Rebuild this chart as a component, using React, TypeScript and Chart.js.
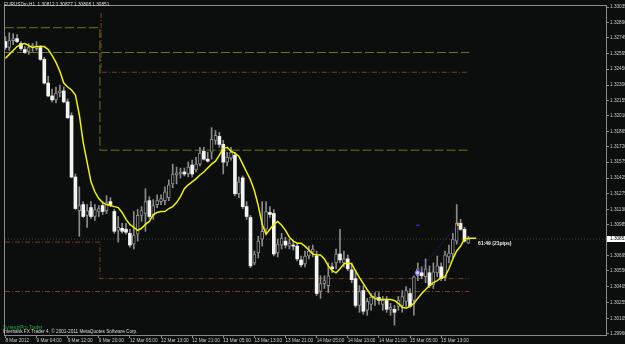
import React, { useEffect, useRef } from 'react';
import { Chart, registerables } from 'chart.js';

Chart.register(...registerables);

// ---- Data (EURUSDm, H1) ----
const opens = [
  1.32710, 1.32654, 1.32719, 1.32737, 1.32691, 1.32635, 1.32617, 1.32654, 1.32644, 1.32654,
  1.32542, 1.32319, 1.32198, 1.32161, 1.32226, 1.32245, 1.32142, 1.32012, 1.31435, 1.31119,
  1.31175, 1.31073, 1.31147, 1.31063, 1.31110, 1.31166, 1.31119, 1.31203, 1.31110, 1.30933,
  1.30952, 1.30943, 1.30905, 1.30803, 1.30896, 1.31073, 1.31091, 1.31212, 1.31073, 1.31175,
  1.31203, 1.31212, 1.31240, 1.31370, 1.31454, 1.31463, 1.31482, 1.31463, 1.31547, 1.31501,
  1.31556, 1.31677, 1.31603, 1.31668, 1.31780, 1.31817, 1.31742, 1.31575, 1.31612, 1.31640,
  1.31277, 1.31426, 1.31156, 1.31054, 1.30626, 1.30719, 1.30850, 1.30943, 1.31101, 1.31091,
  1.30719, 1.30794, 1.30831, 1.30784, 1.30794, 1.30784, 1.30654, 1.30617, 1.30691, 1.30729,
  1.30691, 1.30357, 1.30431, 1.30412, 1.30589, 1.30626, 1.30710, 1.30626, 1.30664, 1.30561,
  1.30478, 1.30226, 1.30366, 1.30180, 1.30236, 1.30282, 1.30301, 1.30236, 1.30273, 1.30189,
  1.30189, 1.30217, 1.30226, 1.30264, 1.30338, 1.30273, 1.30505, 1.30533, 1.30496, 1.30533,
  1.30422, 1.30533, 1.30589, 1.30487, 1.30682, 1.30710, 1.30831, 1.30998, 1.30943, 1.30812,
];
const highs = [
  1.32756, 1.32793, 1.32784, 1.32775, 1.32710, 1.32663, 1.32691, 1.32691, 1.32710, 1.32672,
  1.32561, 1.32384, 1.32263, 1.32282, 1.32300, 1.32282, 1.32170, 1.32040, 1.31463, 1.31342,
  1.31203, 1.31175, 1.31203, 1.31175, 1.31166, 1.31203, 1.31259, 1.31240, 1.31129, 1.31063,
  1.30998, 1.30998, 1.30943, 1.31110, 1.31129, 1.31156, 1.31324, 1.31249, 1.31222, 1.31268,
  1.31268, 1.31342, 1.31408, 1.31556, 1.31528, 1.31519, 1.31519, 1.31575, 1.31594, 1.31621,
  1.31714, 1.31714, 1.31668, 1.31900, 1.31873, 1.31854, 1.31780, 1.31668, 1.31714, 1.31668,
  1.31435, 1.31445, 1.31203, 1.31073, 1.30738, 1.30877, 1.31203, 1.31203, 1.31156, 1.31129,
  1.30850, 1.30905, 1.30868, 1.30850, 1.30831, 1.30803, 1.30691, 1.30738, 1.30784, 1.30794,
  1.30738, 1.30505, 1.30505, 1.30626, 1.30626, 1.30757, 1.30943, 1.30738, 1.30701, 1.30626,
  1.30552, 1.30412, 1.30412, 1.30292, 1.30338, 1.30347, 1.30347, 1.30310, 1.30310, 1.30245,
  1.30226, 1.30310, 1.30366, 1.30403, 1.30385, 1.30505, 1.30626, 1.30589, 1.30664, 1.30598,
  1.30626, 1.30691, 1.30626, 1.30738, 1.30794, 1.30905, 1.31175, 1.31036, 1.30961, 1.30877,
];
const lows = [
  1.32635, 1.32626, 1.32682, 1.32700, 1.32626, 1.32598, 1.32589, 1.32617, 1.32626, 1.32533,
  1.32310, 1.32189, 1.32142, 1.32133, 1.32189, 1.32133, 1.31984, 1.31426, 1.31129, 1.30877,
  1.31054, 1.30961, 1.31045, 1.31026, 1.31063, 1.31082, 1.31091, 1.31156, 1.30905, 1.30822,
  1.30905, 1.30896, 1.30775, 1.30757, 1.30831, 1.31017, 1.30924, 1.31045, 1.31036, 1.31147,
  1.31175, 1.31175, 1.31212, 1.31333, 1.31370, 1.31426, 1.31445, 1.31435, 1.31435, 1.31482,
  1.31538, 1.31594, 1.31575, 1.31603, 1.31742, 1.31714, 1.31463, 1.31538, 1.31594, 1.31259,
  1.31240, 1.31138, 1.31036, 1.30580, 1.30608, 1.30673, 1.30784, 1.30905, 1.31054, 1.30691,
  1.30682, 1.30757, 1.30766, 1.30757, 1.30747, 1.30645, 1.30589, 1.30589, 1.30664, 1.30682,
  1.30319, 1.30292, 1.30385, 1.30347, 1.30533, 1.30571, 1.30626, 1.30589, 1.30552, 1.30440,
  1.30208, 1.30161, 1.30143, 1.30133, 1.30180, 1.30226, 1.30236, 1.30180, 1.30161, 1.30133,
  1.30040, 1.30180, 1.30161, 1.30217, 1.30208, 1.30133, 1.30459, 1.30478, 1.30440, 1.30394,
  1.30385, 1.30496, 1.30459, 1.30459, 1.30626, 1.30673, 1.30803, 1.30933, 1.30822, 1.30808,
];
const closes = [
  1.32654, 1.32719, 1.32737, 1.32710, 1.32644, 1.32607, 1.32654, 1.32672, 1.32663, 1.32542,
  1.32319, 1.32198, 1.32161, 1.32226, 1.32245, 1.32142, 1.31993, 1.31435, 1.31138, 1.31166,
  1.31063, 1.31119, 1.31063, 1.31129, 1.31138, 1.31110, 1.31194, 1.31175, 1.30924, 1.30961,
  1.30924, 1.30915, 1.30794, 1.30887, 1.31073, 1.31119, 1.31203, 1.31063, 1.31166, 1.31212,
  1.31231, 1.31296, 1.31361, 1.31463, 1.31473, 1.31482, 1.31463, 1.31528, 1.31463, 1.31556,
  1.31659, 1.31603, 1.31584, 1.31789, 1.31826, 1.31742, 1.31575, 1.31621, 1.31668, 1.31277,
  1.31389, 1.31156, 1.31063, 1.30598, 1.30710, 1.30831, 1.30924, 1.31110, 1.31082, 1.30710,
  1.30803, 1.30859, 1.30794, 1.30812, 1.30784, 1.30664, 1.30608, 1.30691, 1.30738, 1.30757,
  1.30338, 1.30431, 1.30459, 1.30505, 1.30571, 1.30710, 1.30654, 1.30664, 1.30571, 1.30468,
  1.30226, 1.30357, 1.30171, 1.30264, 1.30301, 1.30310, 1.30273, 1.30273, 1.30189, 1.30208,
  1.30161, 1.30273, 1.30310, 1.30366, 1.30217, 1.30496, 1.30571, 1.30505, 1.30571, 1.30412,
  1.30543, 1.30598, 1.30478, 1.30701, 1.30719, 1.30850, 1.30998, 1.30943, 1.30831, 1.30851,
];
// yellow moving average (one value per bar, drawn a few bars past the last one)
const maValues = [
  1.32551, 1.32589, 1.32626, 1.32663, 1.32682, 1.32691, 1.32672, 1.32654, 1.32663, 1.32663,
  1.32663, 1.32635, 1.32579, 1.32514, 1.32431, 1.32319, 1.32282, 1.32254, 1.32207, 1.32021,
  1.31761, 1.31575, 1.31389, 1.31296, 1.31231, 1.31194, 1.31175, 1.31166, 1.31156, 1.31147,
  1.31101, 1.31036, 1.30989, 1.30961, 1.30933, 1.30952, 1.30989, 1.31017, 1.31082, 1.31101,
  1.31110, 1.31110, 1.31138, 1.31156, 1.31194, 1.31250, 1.31324, 1.31361, 1.31389, 1.31417,
  1.31454, 1.31482, 1.31519, 1.31556, 1.31584, 1.31640, 1.31705, 1.31714, 1.31677, 1.31659,
  1.31631, 1.31556, 1.31482, 1.31408, 1.31305, 1.31166, 1.30989, 1.30896, 1.30943, 1.30989,
  1.31017, 1.30980, 1.30933, 1.30868, 1.30831, 1.30812, 1.30812, 1.30784, 1.30747, 1.30710,
  1.30701, 1.30701, 1.30664, 1.30598, 1.30552, 1.30533, 1.30571, 1.30617, 1.30626, 1.30617,
  1.30552, 1.30487, 1.30431, 1.30375, 1.30319, 1.30292, 1.30282, 1.30282, 1.30282, 1.30282,
  1.30273, 1.30245, 1.30208, 1.30199, 1.30217, 1.30245, 1.30292, 1.30338, 1.30375, 1.30412,
  1.30440, 1.30459, 1.30487, 1.30496, 1.30571, 1.30664, 1.30738, 1.30784, 1.30850, 1.30859,
  1.30859, 1.30859,
];

const timeLabels = [
  '8 Mar 2012', '9 Mar 04:00', '9 Mar 12:00', '9 Mar 20:00', '12 Mar 05:00', '12 Mar 13:00',
  '12 Mar 21:00', '13 Mar 05:00', '13 Mar 13:00', '13 Mar 21:00', '14 Mar 05:00', '14 Mar 13:00',
  '14 Mar 21:00', '15 Mar 05:00', '15 Mar 13:00',
];
const timeLabelBars = [0, 8, 16, 24, 32, 40, 48, 56, 64, 72, 80, 88, 96, 104, 112];

const priceTicks = [
  1.33035, 1.32890, 1.32745, 1.32595, 1.32450, 1.32300, 1.32155, 1.32010, 1.31865, 1.31720,
  1.31575, 1.31425, 1.31275, 1.31130, 1.30985, 1.30695, 1.30550, 1.30405, 1.30255, 1.30105,
  1.29960,
];
const bidPrice = 1.30851;
const priceMin = 1.29938;
const priceMax = 1.33054;
const barMin = -0.1;
const barMax = 154.63;

// level lines (bar index, price)
const levelStepBar = 24.3;
const levelStepBarBrown = 24.6;
const levelEndBar = 119.2;
const greenLevelBefore = 1.32840;
const greenLevelAfter = 1.31687;
const greenLevelFixed = 1.32607;
const brownTopBefore = 1.32979;
const brownTopAfter = 1.32421;
const brownLowBefore = 1.30822;
const brownLowAfter = 1.30478;
const brownLevelFixed = 1.30357;
const trendBars = [105.9, 116.1];
const trendPrices = [1.30533, 1.30980];
const markerBar = 116.4;
const markerPrice = 1.30989;
const trendLabelBar = 121.5;
const trendLabelPrice = 1.30803;

const titleText = 'EURUSDm,H1  1.30812 1.30877 1.30808 1.30851';
const trendLabel = '61:49 (21pips)';
const commentText = 'SynergyPro Trader';
const copyrightText = 'Interbank FX Trader 4, \u00a9 2001-2011 MetaQuotes Software Corp.';

const BG = '#0c0d0d';
const FONT = "'Liberation Sans', Arial, sans-serif";
const AXIS_GRAY = '#8a8a8a';
const LABEL = '#c8c8c8';

export default function App() {
  const ref = useRef<HTMLCanvasElement>(null);

  useEffect(() => {
    document.body.style.margin = '0';
    document.body.style.background = BG;
    const canvas = ref.current;
    if (!canvas) return;

    const idx = opens.map((_, i) => i);
    const bear = idx.map((i) => closes[i] < opens[i]);
    const wickData = idx.map((i) => ({ x: i, y: [lows[i], highs[i]] }));
    const bodyData = idx.map((i) => ({ x: i, y: [opens[i], closes[i]] }));
    const maData = maValues.map((v, i) => ({ x: i, y: v }));

    const lineDs = (data: any[], color: string, dash: number[], order: number, width = 1) => ({
      type: 'line',
      data,
      borderColor: color,
      borderWidth: width,
      borderDash: dash,
      pointRadius: 0,
      tension: 0,
      order,
    });

    const overlay = {
      id: 'overlay',
      beforeDraw(chart: any) {
        const c = chart.ctx;
        c.save();
        c.fillStyle = BG;
        c.fillRect(0, 0, chart.width, chart.height);
        c.restore();
      },
      afterDraw(chart: any) {
        const c = chart.ctx;
        const a = chart.chartArea;
        const xs = chart.scales.x;
        const ys = chart.scales.y;
        c.save();
        // frame
        c.strokeStyle = AXIS_GRAY;
        c.lineWidth = 1;
        c.strokeRect(a.left - 0.5, a.top + 0.5, a.right - a.left, a.bottom - a.top - 1);
        // title
        c.font = `4.7px ${FONT}`;
        c.textBaseline = 'middle';
        c.textAlign = 'left';
        c.fillStyle = '#dcdcdc';
        c.fillText(titleText, 4, 5);
        // trend label
        c.font = `bold 5px ${FONT}`;
        c.fillStyle = '#f0f0f0';
        c.fillText(trendLabel, xs.getPixelForValue(trendLabelBar), ys.getPixelForValue(trendLabelPrice));
        // comments
        c.font = `4.7px ${FONT}`;
        c.fillStyle = '#22b040';
        c.fillText(commentText, 3, 327.5);
        c.fillStyle = '#dcdcdc';
        c.fillText(copyrightText, 3, 331.5);
        // bid price box
        const by = ys.getPixelForValue(bidPrice);
        c.fillStyle = '#ffffff';
        c.fillRect(a.right, by - 3, chart.width - a.right, 6);
        c.fillStyle = '#000000';
        c.fillText(bidPrice.toFixed(5), a.right + 3, by);
        c.restore();
      },
    };

    const chart = new Chart(canvas, {
      type: 'bar',
      data: {
        datasets: [
          lineDs(
            [{ x: barMin, y: greenLevelBefore }, { x: levelStepBar, y: greenLevelBefore }, { x: levelStepBar, y: greenLevelAfter }, { x: levelEndBar, y: greenLevelAfter }],
            '#66791e', [9, 3], 10),
          lineDs([{ x: barMin, y: greenLevelFixed }, { x: levelEndBar, y: greenLevelFixed }], '#66791e', [9, 3], 10),
          lineDs(
            [{ x: levelStepBarBrown, y: brownTopBefore }, { x: levelStepBarBrown, y: brownTopAfter }, { x: levelEndBar, y: brownTopAfter }],
            '#7c3e1e', [5, 2, 1, 2], 10),
          lineDs(
            [{ x: barMin, y: brownLowBefore }, { x: levelStepBar, y: brownLowBefore }, { x: levelStepBar, y: brownLowAfter }, { x: levelEndBar, y: brownLowAfter }],
            '#7c3e1e', [5, 2, 1, 2], 10),
          lineDs([{ x: barMin, y: brownLevelFixed }, { x: levelEndBar, y: brownLevelFixed }], '#7c3e1e', [5, 2, 1, 2], 10),
          lineDs([{ x: barMin, y: bidPrice }, { x: barMax, y: bidPrice }], '#45452c', [1, 2], 11),
          {
            type: 'bar',
            data: wickData,
            backgroundColor: '#8c8c8c',
            borderWidth: 0,
            barThickness: 1,
            grouped: false,
            order: 5,
          },
          {
            type: 'bar',
            data: bodyData,
            backgroundColor: bear.map((b) => (b ? '#f4f4f4' : BG)),
            borderColor: bear.map((b) => (b ? '#f4f4f4' : '#8c8c8c')),
            borderWidth: bear.map((b) => (b ? 0 : 1)),
            borderSkipped: false,
            barThickness: 3,
            minBarLength: 1,
            grouped: false,
            order: 4,
          },
          {
            type: 'line',
            data: trendBars.map((b, i) => ({ x: b, y: trendPrices[i] })),
            borderColor: '#2626c8',
            borderWidth: 1,
            borderDash: [1, 1.5],
            pointRadius: [2.2, 0],
            pointBorderColor: '#6a6aff',
            pointBackgroundColor: '#c8c8ff',
            pointBorderWidth: 1,
            order: 3,
          },
          lineDs([{ x: trendBars[0] - 0.3, y: trendPrices[1] }, { x: trendBars[0] + 0.6, y: trendPrices[1] }], '#2a2ad0', [], 3, 1.5),
          {
            type: 'line',
            data: [{ x: markerBar, y: markerPrice }],
            showLine: false,
            pointRadius: 1.6,
            pointStyle: 'rect',
            pointBackgroundColor: '#e8b040',
            pointBorderColor: '#e8b040',
            order: 2,
          },
          {
            type: 'line',
            data: maData,
            borderColor: '#f2f200',
            borderWidth: 1.5,
            pointRadius: 0,
            tension: 0,
            order: 1,
          },
        ] as any,
      },
      options: {
        responsive: false,
        animation: false,
        events: [],
        layout: { padding: { left: 2, top: 1, right: 0, bottom: 0 } },
        plugins: { legend: { display: false }, tooltip: { enabled: false } },
        scales: {
          x: {
            type: 'linear',
            position: 'bottom',
            min: barMin,
            max: barMax,
            offset: false,
            grid: { display: true, drawOnChartArea: false, drawTicks: true, tickLength: 2, color: AXIS_GRAY, offset: false },
            border: { display: false },
            afterBuildTicks: (scale: any) => {
              scale.ticks = timeLabelBars.map((v) => ({ value: v }));
            },
            afterFit: (scale: any) => {
              scale.height = 8;
              scale.paddingLeft = 0;
              scale.paddingRight = 0;
            },
            ticks: {
              autoSkip: false,
              maxRotation: 0,
              minRotation: 0,
              align: 'start',
              padding: 0,
              color: LABEL,
              font: { family: FONT, size: 4.7, lineHeight: 1 },
              callback: (value: any) => {
                const k = timeLabelBars.indexOf(Number(value));
                return k >= 0 ? timeLabels[k] : '';
              },
            },
          },
          y: {
            type: 'linear',
            position: 'right',
            min: priceMin,
            max: priceMax,
            grid: { display: true, drawOnChartArea: false, drawTicks: true, tickLength: 2, color: AXIS_GRAY },
            border: { display: false },
            afterBuildTicks: (scale: any) => {
              scale.ticks = priceTicks.map((v) => ({ value: v }));
            },
            afterFit: (scale: any) => {
              scale.width = 18;
              scale.paddingTop = 0;
              scale.paddingBottom = 0;
            },
            ticks: {
              autoSkip: false,
              padding: 1,
              color: LABEL,
              font: { family: FONT, size: 4.7, lineHeight: 1 },
              callback: (value: any) => Number(value).toFixed(5),
            },
          },
        },
      } as any,
      plugins: [overlay],
    });

    return () => chart.destroy();
  }, []);

  return (
    <div style={{ width: 625, height: 344, background: BG }}>
      <canvas ref={ref} width={625} height={344} style={{ display: 'block' }} />
    </div>
  );
}
